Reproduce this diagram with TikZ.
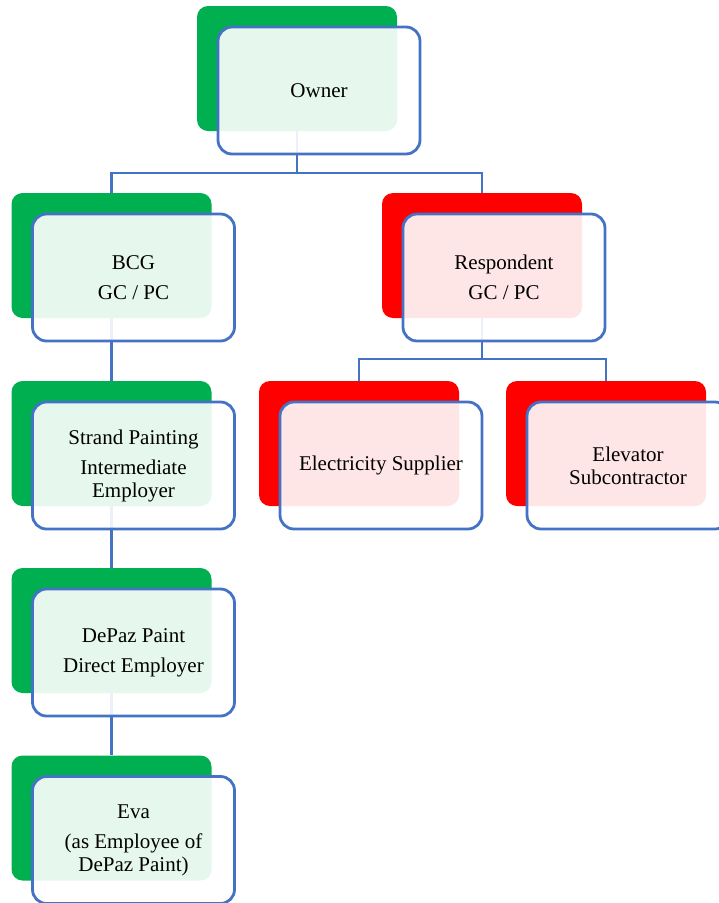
\documentclass[tikz,border=0pt]{standalone}
\usepackage{fontspec}
\setmainfont{Liberation Serif}
\usepackage{tikz}
\usetikzlibrary{positioning, calc}
\definecolor{OwnerGreen}{HTML}{00B050}
\definecolor{RespRed}{HTML}{FF0000}
\definecolor{FrameBlue}{HTML}{4472C4}
\tikzset{
    card/.style={
        rectangle,
        rounded corners=11pt,
        minimum width=200pt,
        minimum height=125pt,
        inner sep=0pt
    },
    gcard/.style={card, fill=OwnerGreen},
    rcard/.style={card, fill=RespRed},
    frame/.style={
        rectangle,
        rounded corners=14pt,
        minimum width=202pt,
        minimum height=127pt,
        align=center,
        draw=FrameBlue,
        line width=2.8pt,
        fill=white,
        fill opacity=0.9,
        text opacity=1,
        font=\fontsize{21}{23}\selectfont
    },
    link/.style={draw=FrameBlue, line width=2.5pt}
}

\begin{document}
\begin{tikzpicture}[x=1pt, y=-1pt]
\useasboundingbox (0,0) rectangle (719,903);

% Back cards
\node[gcard] (ownerB) at (297, 68.5) {};
\node[gcard] (bcgB) at (111.5, 255.5) {};
\node[rcard] (respB) at (482, 255.5) {};
\node[gcard] (strandB) at (111.5, 443.5) {};
\node[rcard] (elecB) at (359, 443.5) {};
\node[rcard] (elevB) at (606, 443.5) {};
\node[gcard] (depazB) at (111.5, 630.5) {};
\node[gcard] (evaB) at (111.5, 818) {};

% Connectors
\draw[link] (ownerB.south) -- ++(0,42) -| (bcgB.north);
\draw[link] (ownerB.south) ++(0,42) -| (respB.north);
\draw[link] (bcgB.south) -- (strandB.north);
\draw[link] (strandB.south) -- (depazB.north);
\draw[link] (depazB.south) -- (evaB.north);
\draw[link] (respB.south) -- ++(0,41) -| (elecB.north);
\draw[link] (respB.south) ++(0,41) -| (elevB.north);

% Front frames
\node[frame] (owner) at ($(ownerB)+(22,22)$) {Owner};
\node[frame] (bcg) at ($(bcgB)+(22,22)$) {BCG\\[7pt]GC / PC};
\node[frame] (resp) at ($(respB)+(22,22)$) {Respondent\\[7pt]GC / PC};
\node[frame] (strand) at ($(strandB)+(22,22)$) {Strand Painting\\[7pt]Intermediate\\Employer};
\node[frame] (elec) at ($(elecB)+(22,22)$) {Electricity Supplier};
\node[frame] (elev) at ($(elevB)+(22,22)$) {Elevator\\Subcontractor};
\node[frame] (depaz) at ($(depazB)+(22,22)$) {DePaz Paint\\[7pt]Direct Employer};
\node[frame] (eva) at ($(evaB)+(22,22)$) {Eva\\[7pt](as Employee of\\DePaz Paint)};

\end{tikzpicture}
\end{document}
